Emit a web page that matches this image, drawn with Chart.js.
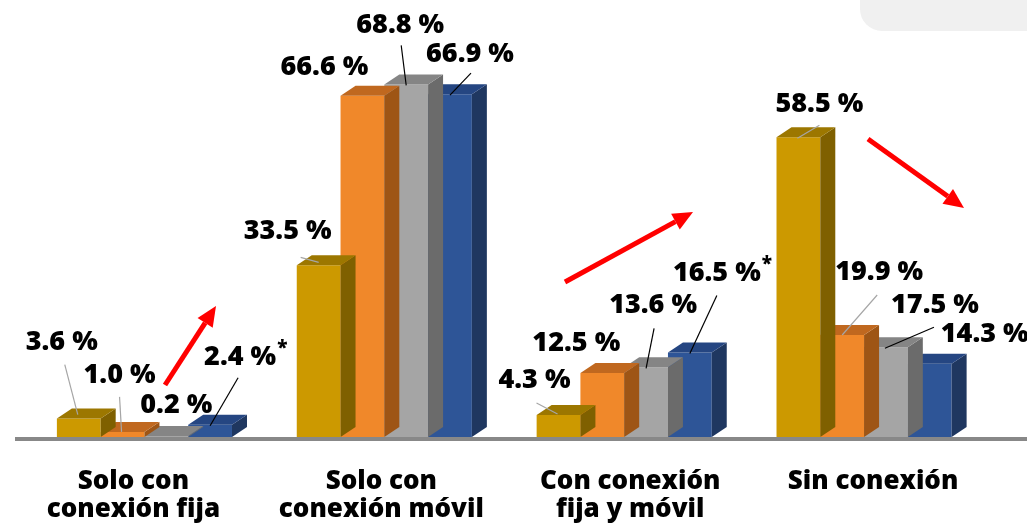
<!DOCTYPE html>
<html>
<head>
<meta charset="utf-8">
<script src="https://cdn.jsdelivr.net/npm/chart.js@4.4.1/dist/chart.umd.min.js"></script>
<style>
  html, body { margin: 0; padding: 0; background: #fff; }
  #wrap { width: 1027px; height: 525px; }
</style>
</head>
<body>
<div id="wrap"><canvas id="chart" width="1027" height="525"></canvas></div>
<script>
// datos
const categories = [
    ['Solo con', 'conexión fija'],
    ['Solo con', 'conexión móvil'],
    ['Con conexión', 'fija y móvil'],
    ['Sin conexión']
];
const serie1 = [3.6, 33.5, 4.3, 58.5];
const serie2 = [1.0, 66.6, 12.5, 19.9];
const serie3 = [0.2, 68.8, 13.6, 17.5];
const serie4 = [2.4, 66.9, 16.5, 14.3];
const marks4 = ['*', '', '*', ''];
const yTicks = [0, 80];

const FONT = "'Open Sans', 'DejaVu Sans', sans-serif";

// colores: frente, tapa, lado
const colors = [
    ['#CC9900', '#9C7700', '#7F6000'],
    ['#F0882A', '#C0681F', '#9E5515'],
    ['#A5A5A5', '#858585', '#6B6B6B'],
    ['#2E5597', '#254682', '#1F3760']
];

// posicion de etiquetas relativa a la barra: [dx, dy, linea desde dx, dy, linea hasta dx, dy, color]
const labelPos = [
    [[-17, -76, -14, -54, -1, -4, '#A6A6A6'], [-31, -34, -18, -8, 0, -3, '#A6A6A6'], [-24, -35, -22, -12, -1, -1, '#A6A6A6'], [21, -33, 21, -12, -1, 1, '#A6A6A6']],
    [[-3, -57, -3, -35, -1, 0, '#A6A6A6'], [-38, -28], [-26, -30], [37, -63, 35, -40, 0, 0, '#A6A6A6']],
    [[10, -31], [-6, -59, -5, -39, 0, 1, '#000'], [7, -62, 8, -39, 0, 1, '#000'], [49, -42, 48, -20, -1, 1, '#000']],
    [[30, -67, 28, -47, 0, 1, '#000'], [20, -40, 21, -21, 0, 1, '#000'], [27, -79, 27, -57, 0, 1, '#000'], [55, -29]]
];

const arrows = [
    [165, 385, 216, 306],
    [565, 282, 693, 212],
    [868, 139, 964, 208]
];

const DX = 15, DY = 10;

const bar3d = {
    id: 'bar3d',
    afterDatasetDraw(chart, args) {
        const ctx = chart.ctx;
        const c = colors[args.index];
        ctx.save();
        args.meta.data.forEach(function (bar) {
            const l = bar.x - bar.width / 2, r = bar.x + bar.width / 2;
            const t = bar.y, b = bar.base;
            ctx.fillStyle = c[2];
            ctx.beginPath();
            ctx.moveTo(r, t); ctx.lineTo(r + DX, t - DY); ctx.lineTo(r + DX, b - DY); ctx.lineTo(r, b);
            ctx.closePath(); ctx.fill();
            ctx.fillStyle = c[1];
            ctx.beginPath();
            ctx.moveTo(l, t); ctx.lineTo(l + DX, t - DY); ctx.lineTo(r + DX, t - DY); ctx.lineTo(r, t);
            ctx.closePath(); ctx.fill();
        });
        ctx.restore();
    }
};

function arrow(ctx, x1, y1, x2, y2) {
    const a = Math.atan2(y2 - y1, x2 - x1);
    const hl = 20, hw = 9;
    const bx = x2 - hl * Math.cos(a), by = y2 - hl * Math.sin(a);
    ctx.strokeStyle = '#FF0000';
    ctx.fillStyle = '#FF0000';
    ctx.lineWidth = 5;
    ctx.beginPath(); ctx.moveTo(x1, y1); ctx.lineTo(bx, by); ctx.stroke();
    ctx.beginPath();
    ctx.moveTo(x2, y2);
    ctx.lineTo(bx + hw * Math.sin(a), by - hw * Math.cos(a));
    ctx.lineTo(bx - hw * Math.sin(a), by + hw * Math.cos(a));
    ctx.closePath(); ctx.fill();
}

const extras = {
    id: 'extras',
    beforeDraw(chart) {
        const ctx = chart.ctx;
        ctx.save();
        ctx.fillStyle = '#F0F0F0';
        ctx.beginPath();
        ctx.roundRect(860, -30, 220, 61, 22);
        ctx.fill();
        ctx.restore();
    },
    afterDatasetsDraw(chart) {
        const ctx = chart.ctx;
        const area = chart.chartArea;
        const xs = chart.scales.x;
        ctx.save();
        // linea base
        ctx.strokeStyle = '#888888';
        ctx.lineWidth = 4;
        ctx.beginPath(); ctx.moveTo(15, area.bottom + 2); ctx.lineTo(1027, area.bottom + 2); ctx.stroke();

        // etiquetas de valores
        chart.data.datasets.forEach(function (ds, di) {
            chart.getDatasetMeta(di).data.forEach(function (bar, i) {
                const p = labelPos[di][i];
                if (p.length > 2) {
                    ctx.strokeStyle = p[6];
                    ctx.lineWidth = 1.2;
                    ctx.beginPath();
                    ctx.moveTo(bar.x + p[2], bar.y + p[3]);
                    ctx.lineTo(bar.x + p[4], bar.y + p[5]);
                    ctx.stroke();
                }
                const txt = ds.data[i].toFixed(1) + ' %';
                ctx.font = '800 27px ' + FONT;
                ctx.fillStyle = '#000';
                ctx.textAlign = 'center';
                ctx.textBaseline = 'middle';
                const cx = bar.x + p[0], cy = bar.y + p[1];
                ctx.fillText(txt, cx, cy);
                if (di === 3 && marks4[i]) {
                    const w = ctx.measureText(txt).width;
                    ctx.font = '800 19px ' + FONT;
                    ctx.textAlign = 'left';
                    ctx.fillText(marks4[i], cx + w / 2 + 1, cy - 9);
                }
            });
        });

        // etiquetas de categorias
        const shift = [-11, -3, 6, 9];
        ctx.font = '800 26px ' + FONT;
        ctx.fillStyle = '#000';
        ctx.textAlign = 'center';
        ctx.textBaseline = 'middle';
        categories.forEach(function (lines, i) {
            const x = xs.getPixelForValue(i) + shift[i];
            lines.forEach(function (s, k) {
                ctx.fillText(s, x, area.bottom + 45 + k * 28);
            });
        });

        arrows.forEach(function (a) { arrow(ctx, a[0], a[1], a[2], a[3]); });
        ctx.restore();
    }
};

const ctx = document.getElementById('chart');
new Chart(ctx, {
    type: 'bar',
    data: {
        labels: categories,
        datasets: [
            { label: 'Serie 1', data: serie1, backgroundColor: colors[0][0] },
            { label: 'Serie 2', data: serie2, backgroundColor: colors[1][0] },
            { label: 'Serie 3', data: serie3, backgroundColor: colors[2][0] },
            { label: 'Serie 4', data: serie4, backgroundColor: colors[3][0] }
        ]
    },
    options: {
        responsive: false,
        animation: false,
        devicePixelRatio: 1,
        layout: { padding: { left: 24.5, right: 43, top: 27, bottom: 88 } },
        datasets: { bar: { categoryPercentage: 0.73, barPercentage: 1, borderWidth: 0 } },
        plugins: { legend: { display: false }, tooltip: { enabled: false } },
        scales: {
            x: { display: false },
            y: { display: false, min: yTicks[0], max: yTicks[1] }
        }
    },
    plugins: [bar3d, extras]
});
</script>
</body>
</html>
